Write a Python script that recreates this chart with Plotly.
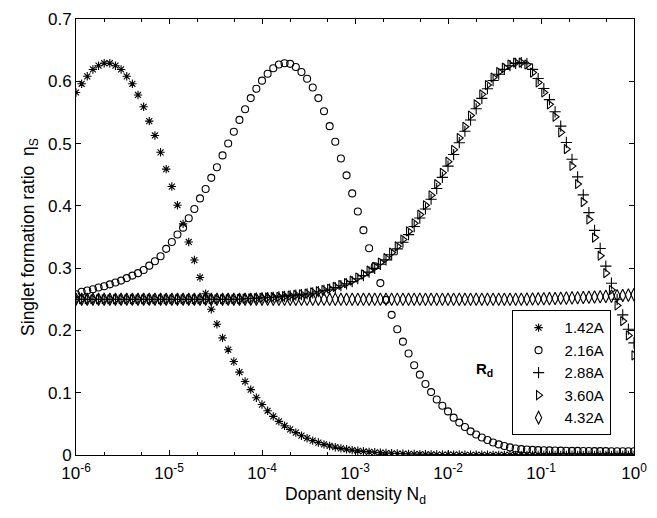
import numpy as np
import plotly.graph_objects as go

# Dopant density grid: 100 log-spaced points from 1e-6 to 1
n_d = np.logspace(-6, 0, 100)

# Singlet formation ratio for each dopant radius R_d
eta_142 = [
    0.582, 0.596, 0.608, 0.619, 0.625, 0.629, 0.629, 0.625, 0.619, 0.608,
    0.596, 0.578, 0.559, 0.536, 0.513, 0.486, 0.459, 0.431, 0.401, 0.371,
    0.342, 0.313, 0.285, 0.259, 0.234, 0.210, 0.188, 0.169, 0.150, 0.133,
    0.118, 0.105, 0.092, 0.081, 0.071, 0.062, 0.054, 0.047, 0.041, 0.036,
    0.031, 0.027, 0.023, 0.020, 0.017, 0.0145, 0.0125, 0.0107, 0.0092, 0.0079,
    0.0068, 0.0058, 0.0050, 0.0043, 0.0037, 0.0032, 0.0027, 0.0023, 0.0020, 0.0017,
    0.0015, 0.0013, 0.0011, 0.0010, 0.0008, 0.0007, 0.0006, 0.0005, 0.0005, 0.0004,
    0.0004, 0.0003, 0.0003, 0.0003, 0.0002, 0.0002, 0.0002, 0.0002, 0.0002, 0.0002,
    0.0002, 0.0002, 0.0002, 0.0002, 0.0002, 0.0002, 0.0001, 0.0001, 0.0001, 0.0001,
    0.0001, 0.0001, 0.0001, 0.0001, 0.0001, 0.0001, 0.0001, 0.0001, 0.0001, 0.0001,
]

eta_216 = [
    0.258, 0.262, 0.264, 0.266, 0.269, 0.271, 0.274, 0.277, 0.280, 0.284,
    0.288, 0.292, 0.297, 0.304, 0.311, 0.319, 0.331, 0.342, 0.354, 0.365,
    0.380, 0.395, 0.412, 0.427, 0.445, 0.462, 0.481, 0.500, 0.519, 0.538,
    0.555, 0.573, 0.588, 0.601, 0.612, 0.621, 0.627, 0.629, 0.628, 0.623,
    0.615, 0.604, 0.590, 0.573, 0.552, 0.528, 0.503, 0.476, 0.449, 0.420,
    0.391, 0.361, 0.332, 0.303, 0.276, 0.249, 0.225, 0.202, 0.182, 0.163,
    0.144, 0.129, 0.114, 0.101, 0.089, 0.079, 0.070, 0.060, 0.052, 0.045,
    0.038, 0.033, 0.028, 0.024, 0.020, 0.017, 0.0145, 0.0122, 0.0105, 0.0095,
    0.0088, 0.0083, 0.0079, 0.0076, 0.0074, 0.0072, 0.0070, 0.0068, 0.0067, 0.0066,
    0.0065, 0.0064, 0.0063, 0.0062, 0.0062, 0.0061, 0.0061, 0.0060, 0.0060, 0.0060,
]

eta_288 = [
    0.250, 0.250, 0.250, 0.250, 0.250, 0.250, 0.250, 0.250, 0.250, 0.250,
    0.250, 0.250, 0.250, 0.250, 0.250, 0.250, 0.250, 0.250, 0.250, 0.250,
    0.250, 0.250, 0.250, 0.250, 0.250, 0.250, 0.250, 0.250, 0.250, 0.250,
    0.2508, 0.2513, 0.2518, 0.2523, 0.2528, 0.2533, 0.2538, 0.2546, 0.2556, 0.2566,
    0.2576, 0.2586, 0.2602, 0.2622, 0.2642, 0.2662, 0.2688, 0.2718, 0.2748, 0.2784,
    0.2830, 0.2880, 0.2936, 0.2996, 0.3062, 0.3132, 0.3214, 0.3310, 0.3416, 0.3538,
    0.3668, 0.3804, 0.3950, 0.4106, 0.4278, 0.4458, 0.4638, 0.4824, 0.5014, 0.5198,
    0.5378, 0.5558, 0.5726, 0.5880, 0.6012, 0.6114, 0.6192, 0.6250, 0.6288, 0.6300,
    0.6282, 0.6192, 0.6044, 0.5884, 0.5706, 0.5510, 0.5280, 0.5018, 0.4748, 0.4466,
    0.4176, 0.3892, 0.3606, 0.3316, 0.3032, 0.2758, 0.2500, 0.2250, 0.2020, 0.1800,
]

eta_360 = [
    0.250, 0.250, 0.250, 0.250, 0.250, 0.250, 0.250, 0.250, 0.250, 0.250,
    0.250, 0.250, 0.250, 0.250, 0.250, 0.250, 0.250, 0.250, 0.250, 0.250,
    0.250, 0.250, 0.250, 0.250, 0.250, 0.250, 0.250, 0.250, 0.250, 0.2505,
    0.251, 0.2515, 0.252, 0.2525, 0.253, 0.2535, 0.254, 0.255, 0.256, 0.257,
    0.258, 0.259, 0.261, 0.263, 0.265, 0.267, 0.270, 0.273, 0.276, 0.280,
    0.285, 0.290, 0.296, 0.302, 0.309, 0.316, 0.325, 0.335, 0.346, 0.359,
    0.372, 0.386, 0.401, 0.417, 0.435, 0.453, 0.471, 0.490, 0.509, 0.527,
    0.545, 0.563, 0.579, 0.594, 0.606, 0.615, 0.622, 0.627, 0.630, 0.630,
    0.627, 0.614, 0.598, 0.582, 0.563, 0.543, 0.518, 0.491, 0.464, 0.435,
    0.406, 0.378, 0.349, 0.320, 0.292, 0.265, 0.240, 0.215, 0.192, 0.160,
]

eta_432 = [0.250] * 80 + [
    0.2502, 0.2504, 0.2506, 0.2508, 0.2510, 0.2513, 0.2516, 0.2519, 0.2522, 0.2525,
    0.2529, 0.2533, 0.2537, 0.2541, 0.2546, 0.2551, 0.2556, 0.2561, 0.2567, 0.2575,
]

series = [
    ("1.42A", eta_142, "asterisk-open", 7),
    ("2.16A", eta_216, "circle-open", 7),
    ("2.88A", eta_288, "cross-thin-open", 8),
    ("3.60A", eta_360, "triangle-right-open", 8),
    ("4.32A", eta_432, "diamond-tall-open", 9),
]

x_tick_vals = [1e-6, 1e-5, 1e-4, 1e-3, 1e-2, 1e-1, 1e0]
x_tick_text = ["10<sup>-6</sup>", "10<sup>-5</sup>", "10<sup>-4</sup>", "10<sup>-3</sup>",
               "10<sup>-2</sup>", "10<sup>-1</sup>", "10<sup>0</sup>"]
y_tick_vals = [0, 0.1, 0.2, 0.3, 0.4, 0.5, 0.6, 0.7]
y_tick_text = ["0", "0.1", "0.2", "0.3", "0.4", "0.5", "0.6", "0.7"]

FONT = "Liberation Sans, Arial, Helvetica, sans-serif"

fig = go.Figure()
for name, vals, sym, size in series:
    fig.add_trace(go.Scatter(
        x=n_d, y=vals, mode="markers", name=name,
        marker=dict(symbol=sym, size=size, color="black",
                    line=dict(color="black", width=1.1)),
    ))

axis_common = dict(
    showline=True, linecolor="black", linewidth=1, mirror="allticks",
    ticks="inside", ticklen=5, tickcolor="black", tickwidth=1,
    showgrid=False, zeroline=False,
    tickfont=dict(family=FONT, size=17, color="black"),
)

fig.update_xaxes(
    type="log", range=[-6, 0],
    tickmode="array", tickvals=x_tick_vals, ticktext=x_tick_text,
    minor=dict(ticks="inside", ticklen=3, tickcolor="black", showgrid=False),
    ticklabelstandoff=3,
    **axis_common,
)
fig.update_yaxes(
    range=[0, 0.7],
    tickmode="array", tickvals=y_tick_vals, ticktext=y_tick_text,
    ticklabelstandoff=0,
    title=dict(text="Singlet formation ratio  η<sub>S</sub>",
               font=dict(family=FONT, size=17.5, color="black"), standoff=8),
    **axis_common,
)

# x-axis title placed just under the tick labels
fig.add_annotation(
    x=0.5, y=-0.092, xref="paper", yref="paper", yanchor="middle",
    text="Dopant density N<sub>d</sub>", showarrow=False,
    font=dict(family=FONT, size=17.5, color="black"),
)

fig.add_annotation(
    x=0.75, y=0.17, xref="paper", yref="paper",
    text="<b>R</b><sub><b>d</b></sub>", showarrow=False,
    font=dict(family=FONT, size=15, color="black"),
)

fig.update_layout(
    width=657, height=518,
    margin=dict(l=76, r=16, t=10, b=63),
    paper_bgcolor="white", plot_bgcolor="white",
    font=dict(family=FONT, size=16, color="black"),
    showlegend=True,
    legend=dict(
        x=0.958, y=0.045, xanchor="right", yanchor="bottom",
        bgcolor="white", bordercolor="black", borderwidth=1,
        font=dict(family=FONT, size=15, color="black"),
        itemwidth=42, tracegroupgap=0,
    ),
)

fig.write_html("out.html")
